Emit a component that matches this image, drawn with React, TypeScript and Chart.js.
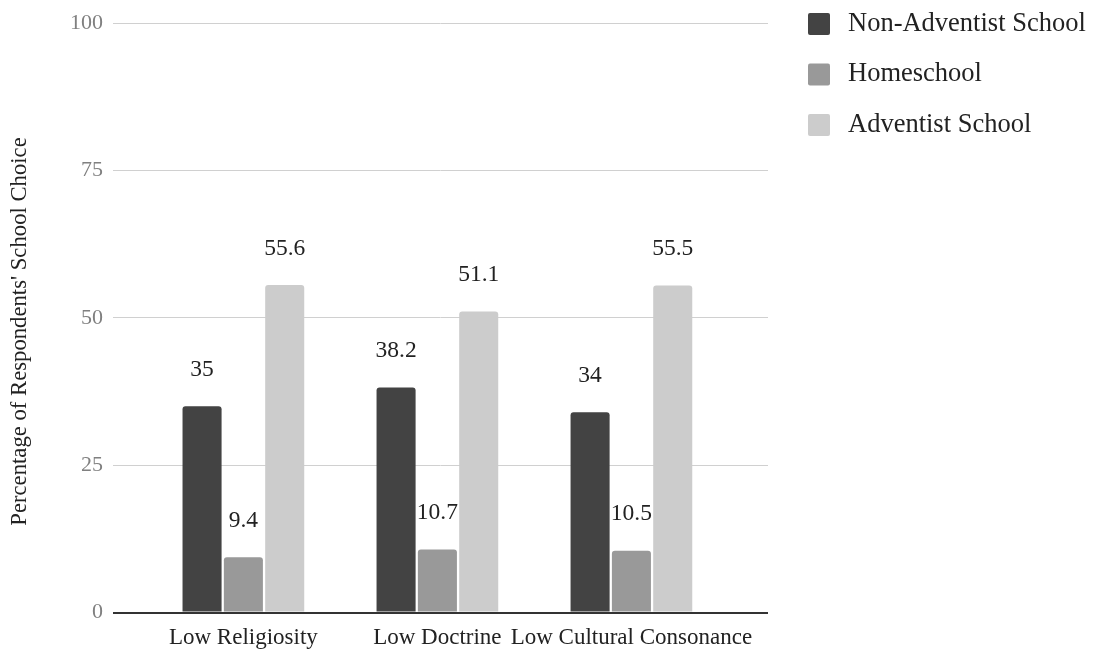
import React, { useEffect, useRef } from 'react';
import { Chart, registerables } from 'chart.js';

Chart.register(...registerables);

const categories = ['Low Religiosity', 'Low Doctrine', 'Low Cultural Consonance'];
const seriesNames = ['Non-Adventist School', 'Homeschool', 'Adventist School'];
const nonAdventist = [35, 38.2, 34];
const homeschool = [9.4, 10.7, 10.5];
const adventist = [55.6, 51.1, 55.5];
const yTicks = [0, 25, 50, 75, 100];
const yTitle = "Percentage of Respondents' School Choice";
const seriesColors = ['#434343', '#999999', '#cccccc'];

const FONT = "'Liberation Serif', 'Times New Roman', serif";

const valueLabels = {
  id: 'valueLabels',
  afterDatasetsDraw(chart: any) {
    const ctx = chart.ctx;
    ctx.save();
    ctx.font = `23.5px ${FONT}`;
    ctx.fillStyle = '#222222';
    ctx.textAlign = 'center';
    ctx.textBaseline = 'middle';
    chart.data.datasets.forEach((ds: any, di: number) => {
      const meta = chart.getDatasetMeta(di);
      meta.data.forEach((el: any, i: number) => {
        const v = ds.data[i].y;
        ctx.fillText(String(v), el.x, el.y - 36.5);
      });
    });
    ctx.restore();
  },
};

const sideTitle = {
  id: 'sideTitle',
  afterDraw(chart: any) {
    const ctx = chart.ctx;
    ctx.save();
    ctx.font = `22.7px ${FONT}`;
    ctx.fillStyle = '#222222';
    ctx.textAlign = 'center';
    ctx.textBaseline = 'middle';
    ctx.translate(20, 331.5);
    ctx.rotate(-Math.PI / 2);
    ctx.fillText(yTitle, 0, 0);
    ctx.restore();
  },
};

const customLegend = {
  id: 'customLegend',
  afterDraw(chart: any) {
    const ctx = chart.ctx;
    ctx.save();
    ctx.font = `26.5px ${FONT}`;
    ctx.textBaseline = 'middle';
    ctx.textAlign = 'left';
    seriesNames.forEach((name, i) => {
      const cy = 24 + i * 50.5;
      ctx.fillStyle = seriesColors[i];
      ctx.beginPath();
      if (ctx.roundRect) ctx.roundRect(808, cy - 11, 22, 22, 2);
      else ctx.rect(808, cy - 11, 22, 22);
      ctx.fill();
      ctx.fillStyle = '#222222';
      ctx.fillText(name, 848, cy);
    });
    ctx.restore();
  },
};

export default function App() {
  const canvasRef = useRef<HTMLCanvasElement | null>(null);

  useEffect(() => {
    if (!canvasRef.current) return;
    const seriesValues = [nonAdventist, homeschool, adventist];
    const chart = new Chart(canvasRef.current, {
      type: 'bar',
      data: {
        datasets: seriesNames.map((name, si) => ({
          label: name,
          data: seriesValues[si].map((v, i) => ({ x: i, y: v })),
          backgroundColor: seriesColors[si],
          borderWidth: 0,
          borderRadius: 3,
          borderSkipped: 'start',
          categoryPercentage: 0.639,
          barPercentage: 0.945,
        })),
      } as any,
      options: {
        animation: false,
        responsive: false,
        maintainAspectRatio: false,
        layout: { padding: { left: 0, right: 326, top: 23, bottom: 0 } },
        plugins: {
          legend: { display: false },
          tooltip: { enabled: false },
          title: { display: false },
        },
        scales: {
          x: {
            type: 'linear',
            offset: false,
            min: -0.672,
            max: 2.704,
            grid: { display: false, drawTicks: false, offset: false },
            border: { display: false },
            afterBuildTicks: (scale: any) => {
              scale.ticks = categories.map((_, i) => ({ value: i }));
            },
            afterFit: (scale: any) => {
              scale.height = 37.4;
            },
            ticks: {
              autoSkip: false,
              maxRotation: 0,
              minRotation: 0,
              padding: 12,
              color: '#222222',
              font: { family: FONT, size: 23 },
              callback: (value: any) => categories[Math.round(Number(value))] ?? '',
            },
          },
          y: {
            min: 0,
            max: 100,
            afterFit: (scale: any) => {
              scale.width = 113;
            },
            afterBuildTicks: (scale: any) => {
              scale.ticks = yTicks.map((v) => ({ value: v }));
            },
            grid: {
              drawTicks: false,
              color: (ctx: any) => (ctx.tick && ctx.tick.value === 0 ? '#333333' : '#d0d0d0'),
              lineWidth: (ctx: any) => (ctx.tick && ctx.tick.value === 0 ? 2 : 1),
            },
            border: { display: false },
            ticks: {
              padding: 10,
              color: '#808080',
              font: { family: FONT, size: 22 },
            },
          },
        },
      } as any,
      plugins: [valueLabels, sideTitle, customLegend],
    });
    return () => chart.destroy();
  }, []);

  return (
    <div style={{ position: 'fixed', left: 0, top: 0, width: 1094, height: 650, background: '#ffffff' }}>
      <canvas ref={canvasRef} width={1094} height={650} style={{ width: 1094, height: 650, display: 'block' }} />
    </div>
  );
}
